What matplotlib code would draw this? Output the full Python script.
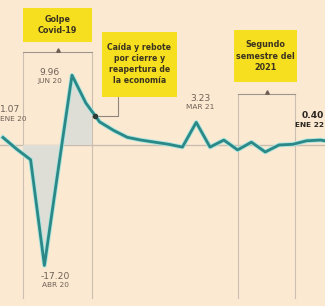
import matplotlib
matplotlib.use("Agg")
import matplotlib.pyplot as plt
from matplotlib.patches import Rectangle
import numpy as np

plt.rcParams['font.family'] = ['Liberation Sans Narrow', 'DejaVu Sans']

# ---- data ----
months = ["ENE 20", "FEB 20", "MAR 20", "ABR 20", "MAY 20", "JUN 20", "JUL 20", "AGO 20",
          "SEP 20", "OCT 20", "NOV 20", "DIC 20", "ENE 21", "FEB 21", "MAR 21", "ABR 21",
          "MAY 21", "JUN 21", "JUL 21", "AGO 21", "SEP 21", "OCT 21", "NOV 21", "DIC 21", "ENE 22"]
values = [1.07, -0.6, -2.1, -17.20, -3.5, 9.96, 6.0, 3.3, 2.1, 1.1, 0.7, 0.4, 0.1, -0.3,
          3.23, -0.3, 0.7, -0.7, 0.4, -1.0, 0.0, 0.1, 0.6, 0.7, 0.40]
labelled = {"ENE 20": "1.07", "JUN 20": "9.96", "ABR 20": "-17.20", "MAR 21": "3.23", "ENE 22": "0.40"}
box_covid = "Golpe\nCovid-19"
box_rebote = "Caída y rebote\npor cierre y\nreapertura de\nla economía"
box_sem = "Segundo\nsemestre del\n2021"

x = np.arange(len(values))
y = np.array(values)
idx = {m: i for i, m in enumerate(months)}

bg = '#FBE9D2'
yellow = '#F6DF1E'
teal = '#2C8886'
gridc = '#CDBFAF'
labc = '#6E6055'
boxtxt = '#3B3320'

fig = plt.figure(figsize=(3.25, 3.06), dpi=100)
fig.patch.set_facecolor(bg)
ax = fig.add_axes([0, 0, 1, 1])
ax.set_facecolor(bg)
ax.axis('off')
ax.set_xlim(-0.217, 23.33)
ax.set_ylim(-23.0, 20.71)

# zero line
ax.axhline(0, color='#C9BDB0', lw=1.0, zorder=1)

# covid bracket region
cx0, cx1 = 1.45, 6.45
ytop_c = 13.3
ybot = -21.9
fill = ax.fill_between(x, y, 0, color='#DEDDD6', zorder=1.5, lw=0)
clip = Rectangle((cx0, -30), cx1 - cx0, 60, transform=ax.transData)
fill.set_clip_path(clip)
for xx in (cx0, cx1):
    ax.plot([xx, xx], [ybot, ytop_c], color=gridc, lw=0.8, zorder=1.2)
ax.plot([cx0, cx1], [ytop_c, ytop_c], color='#9E968C', lw=0.8, zorder=1.2)
ax.plot([(cx0 + cx1) / 2], [ytop_c + 0.3], marker='^', ms=2.5, color='#6E6055', zorder=2)
ax.add_patch(Rectangle((cx0, 14.7), cx1 - cx0, 4.9, color=yellow, zorder=3, lw=0))
ax.text((cx0 + cx1) / 2, 17.15, box_covid, ha='center', va='center', fontsize=5.8,
        fontweight='bold', color=boxtxt, linespacing=1.3, zorder=4)

# semester bracket
sx0, sx1 = 17.03, 21.16
ytop_s = 7.3
for xx in (sx0, sx1):
    ax.plot([xx, xx], [ybot, ytop_s], color=gridc, lw=0.8, zorder=1.2)
ax.plot([sx0, sx1], [ytop_s, ytop_s], color='#9E968C', lw=0.8, zorder=1.2)
ax.plot([(sx0 + sx1) / 2], [ytop_s + 0.3], marker='^', ms=2.5, color='#6E6055', zorder=2)
ax.add_patch(Rectangle((16.74, 9.0), 21.3 - 16.74, 7.4, color=yellow, zorder=3, lw=0))
ax.text((16.74 + 21.3) / 2, 12.7, box_sem, ha='center', va='center', fontsize=5.8,
        fontweight='bold', color=boxtxt, linespacing=1.3, zorder=4)

# rebote box + connector
rx0, rx1 = 7.17, 12.6
ax.add_patch(Rectangle((rx0, 6.9), rx1 - rx0, 9.3, color=yellow, zorder=3, lw=0))
ax.text((rx0 + rx1) / 2, 11.55, box_rebote, ha='center', va='center', fontsize=5.6,
        fontweight='bold', color=boxtxt, linespacing=1.3, zorder=4)
dot_x = 6.67
dot_y = float(np.interp(dot_x, x, y))
ax.plot([8.33, 8.33, dot_x], [6.9, dot_y, dot_y], color='#8E867C', lw=0.8, zorder=2)

# main line
ax.plot(x, y, color='#A8E6E0', lw=3.3, zorder=5, solid_joinstyle='round')
ax.plot(x, y, color=teal, lw=2.0, zorder=6, solid_joinstyle='round')
ax.plot([dot_x], [dot_y], 'o', ms=3, color='#2E3A36', zorder=7)

# value labels
def lab(m, px, vy, bold=False, ha='center'):
    c = '#2A2520' if bold else labc
    w = 'bold' if bold else 'normal'
    ax.text(px, vy, labelled[m], ha=ha, va='bottom', fontsize=6.6, color=c, fontweight=w, zorder=8)
    ax.text(px, vy - 0.2, m, ha=ha, va='top', fontsize=5.3, color=c, fontweight=w, zorder=8)

lab("ENE 20", idx["ENE 20"] - 0.19, 4.4, ha='left')
lab("JUN 20", idx["JUN 20"] - 1.6, 9.7)
lab("ABR 20", idx["ABR 20"] + 0.8, -19.4)
lab("MAR 21", idx["MAR 21"] + 0.3, 6.0)
lab("ENE 22", 23.28, 3.5, bold=True, ha='right')

fig.savefig('out.png', dpi=100, facecolor=bg)
